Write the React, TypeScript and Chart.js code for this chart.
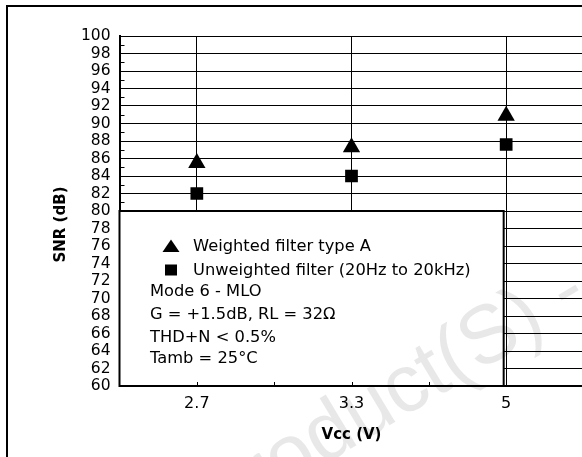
import React, { useEffect, useRef } from 'react';
import { Chart, registerables } from 'chart.js';

Chart.register(...registerables);

const categories = ['2.7', '3.3', '5'];
const weightedA = [85.5, 87.3, 90.9];
const unweighted = [82.0, 84.0, 87.6];
const yMin = 60;
const yMax = 100;
const yStep = 2;
const boxTop = 80;
const legendLabels = ['Weighted filter type A', 'Unweighted filter (20Hz to 20kHz)'];
const noteLines = ['Mode 6 - MLO', 'G = +1.5dB, RL = 32\u03A9', 'THD+N < 0.5%', 'Tamb = 25\u00B0C'];
const xTitle = 'Vcc (V)';
const yTitle = 'SNR (dB)';
const watermark = 'Obsolete Product(S) - Obsolete Product(S)';

const CW = 600;
const CH = 470;
const FONT = '"DejaVu Sans", sans-serif';

const decor = {
  id: 'decor',
  beforeDraw(chart: any) {
    const ctx = chart.ctx;
    ctx.save();
    ctx.fillStyle = '#fff';
    ctx.fillRect(0, 0, chart.width, chart.height);
    ctx.restore();
  },
  beforeDatasetsDraw(chart: any) {
    const { ctx, chartArea } = chart;
    const x = chart.scales.x;
    const y = chart.scales.y;
    ctx.save();
    ctx.strokeStyle = '#000';
    ctx.lineWidth = 1;
    // minor ticks on y axis
    for (let v = yMin + 1; v < yMax; v += yStep) {
      const py = Math.round(y.getPixelForValue(v)) + 0.5;
      ctx.beginPath();
      ctx.moveTo(chartArea.left, py);
      ctx.lineTo(chartArea.left + 5, py);
      ctx.stroke();
    }
    // annotation box
    const top = y.getPixelForValue(boxTop);
    const left = chartArea.left;
    const right = x.getPixelForValue(categories.length - 1) - 2.5;
    const bottom = chartArea.bottom;
    ctx.fillStyle = '#fff';
    ctx.fillRect(left, top, right - left, bottom - top);
    ctx.lineWidth = 2;
    ctx.strokeRect(left, top, right - left, bottom - top);
    // x axis small ticks
    ctx.lineWidth = 1;
    const xs: number[] = [];
    for (let i = 0; i < categories.length; i++) {
      xs.push(x.getPixelForValue(i));
      if (i < categories.length - 1) xs.push((x.getPixelForValue(i) + x.getPixelForValue(i + 1)) / 2);
    }
    xs.forEach((px) => {
      if (px > right) return;
      const p = Math.round(px) + 0.5;
      ctx.beginPath();
      ctx.moveTo(p, bottom - 1);
      ctx.lineTo(p, bottom - 4);
      ctx.stroke();
    });
    // legend markers
    ctx.fillStyle = '#000';
    const tx = left + 51.5;
    const ty = top + 35;
    ctx.beginPath();
    ctx.moveTo(tx, ty - 6.5);
    ctx.lineTo(tx + 8.5, ty + 6);
    ctx.lineTo(tx - 8.5, ty + 6);
    ctx.closePath();
    ctx.fill();
    ctx.fillRect(tx - 6, top + 59 - 5.5, 12, 11);
    // legend texts
    ctx.font = '16.3px ' + FONT;
    ctx.textAlign = 'left';
    ctx.textBaseline = 'alphabetic';
    ctx.fillText(legendLabels[0], left + 73.5, top + 40);
    ctx.fillText(legendLabels[1], left + 73.5, top + 64);
    const noteBase = [85, 108, 130.5, 151.5];
    noteLines.forEach((t, i) => ctx.fillText(t, left + 30.5, top + noteBase[i]));
    ctx.restore();
  },
  afterDraw(chart: any) {
    const { ctx, chartArea } = chart;
    ctx.save();
    // axis titles
    ctx.fillStyle = '#000';
    ctx.font = 'bold 15px ' + FONT;
    ctx.textAlign = 'center';
    ctx.textBaseline = 'middle';
    ctx.fillText(xTitle, (chartArea.left + chartArea.right) / 2, 435);
    ctx.save();
    ctx.translate(61, 224.5);
    ctx.rotate(-Math.PI / 2);
    ctx.fillText(yTitle, 0, 0);
    ctx.restore();
    // frame
    ctx.strokeStyle = '#000';
    ctx.lineWidth = 2;
    ctx.strokeRect(7, 6, 1000, 1000);
    // watermark
    ctx.font = '82px "Liberation Sans", Arial, sans-serif';
    ctx.fillStyle = 'rgba(0,0,0,0.09)';
    ctx.textAlign = 'left';
    ctx.textBaseline = 'alphabetic';
    const pre = ctx.measureText('Obsolete Pro').width;
    ctx.translate(322, 466);
    ctx.rotate(-31 * Math.PI / 180);
    ctx.fillText(watermark, -pre, 0);
    ctx.restore();
  },
};

export default function App() {
  const ref = useRef<HTMLCanvasElement | null>(null);
  useEffect(() => {
    const canvas = ref.current;
    if (!canvas) return;
    const chart = new Chart(canvas, {
      type: 'line',
      data: {
        labels: categories,
        datasets: [
          {
            label: legendLabels[0],
            data: weightedA,
            showLine: false,
            pointStyle: 'triangle',
            pointRadius: 10,
            pointHoverRadius: 10,
            pointBackgroundColor: '#000',
            pointBorderWidth: 0,
            borderColor: '#000',
            backgroundColor: '#000',
          },
          {
            label: legendLabels[1],
            data: unweighted,
            showLine: false,
            pointStyle: 'rect',
            pointRadius: 9,
            pointHoverRadius: 9,
            pointBackgroundColor: '#000',
            pointBorderWidth: 0,
            borderColor: '#000',
            backgroundColor: '#000',
          },
        ],
      },
      options: {
        animation: false,
        responsive: false,
        devicePixelRatio: 1,
        events: [],
        layout: { padding: { left: 0, top: 36, right: CW - 583.5, bottom: 0 } },
        plugins: { legend: { display: false }, tooltip: { enabled: false } },
        scales: {
          x: {
            type: 'category',
            offset: true,
            grid: { color: '#000', lineWidth: 1, drawTicks: false },
            border: { color: '#000', width: 2 },
            ticks: {
              color: '#000',
              font: { family: FONT, size: 16 },
              padding: 8,
              autoSkip: false,
              maxRotation: 0,
            },
            afterFit: (s: any) => {
              s.height = CH - 386;
            },
          },
          y: {
            min: yMin,
            max: yMax,
            grid: { color: '#000', lineWidth: 1, drawTicks: false },
            border: { color: '#000', width: 2 },
            ticks: {
              stepSize: yStep,
              color: '#000',
              font: { family: FONT, size: 15.5 },
              padding: 9,
              autoSkip: false,
            },
            afterFit: (s: any) => {
              s.width = 119.5;
            },
          },
        },
      },
      plugins: [decor],
    } as any);
    return () => chart.destroy();
  }, []);
  return (
    <div
      style={{
        position: 'fixed',
        left: 0,
        top: 0,
        width: 582,
        height: 457,
        overflow: 'hidden',
        background: '#fff',
      }}
    >
      <canvas ref={ref} width={CW} height={CH} style={{ display: 'block' }} />
    </div>
  );
}
